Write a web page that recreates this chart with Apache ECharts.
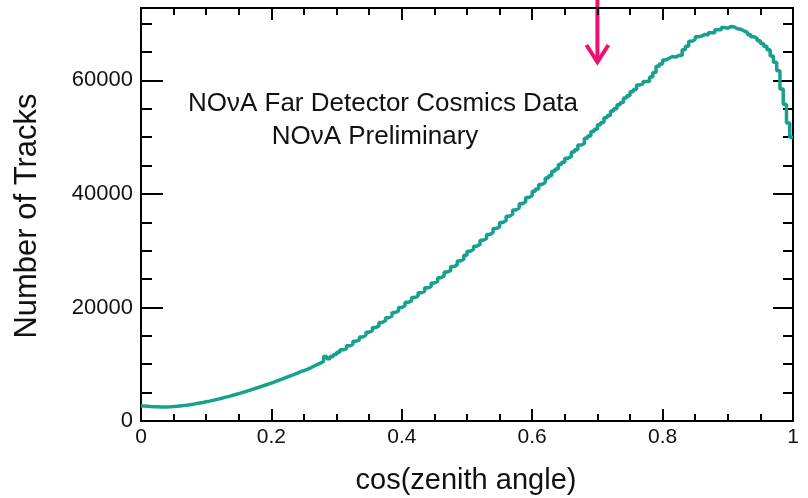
<!DOCTYPE html>
<html>
<head>
<meta charset="utf-8">
<script src="https://cdn.jsdelivr.net/npm/echarts@6/dist/echarts.min.js"></script>
<style>
html,body{margin:0;padding:0;background:#fff;}
#chart{width:808px;height:498px;}
</style>
</head>
<body>
<div id="chart"></div>
<script>
// Histogram: 200 bins over cos(zenith angle) in [0, 1]
var binLow = 0;
var binWidth = 0.005;
var counts = [
  2640, 2600, 2560, 2530, 2500, 2470, 2460, 2480, 2500, 2540,
  2590, 2660, 2720, 2790, 2870, 2960, 3060, 3160, 3270, 3390,
  3500, 3640, 3770, 3900, 4060, 4200, 4340, 4500, 4660, 4830,
  5000, 5170, 5360, 5540, 5720, 5900, 6100, 6300, 6480, 6690,
  6900, 7120, 7340, 7570, 7790, 8010, 8230, 8450, 8680, 8890,
  9100, 9360, 9640, 9920, 10200, 10480, 11350, 10980, 11350, 11720,
  12100, 12550, 12700, 13250, 13500, 14050, 14300, 14800, 15100, 15650,
  15900, 16450, 16750, 17350, 17650, 18200, 18500, 19100, 19400, 20000,
  20300, 20900, 21150, 21750, 22000, 22600, 22850, 23450, 23700, 24300,
  24600, 25250, 25550, 26250, 26500, 27200, 27500, 28200, 28500, 29200,
  29900, 30250, 30800, 31100, 31850, 32150, 32850, 33200, 33900, 34200,
  34950, 35300, 36050, 36400, 37150, 37500, 38250, 38600, 39350, 39700,
  40450, 40850, 41650, 42000, 42800, 43200, 44000, 44400, 45200, 45600,
  46300, 46600, 47400, 47800, 48600, 48900, 49800, 50200, 51000, 51400,
  52200, 52600, 53400, 53800, 54600, 55000, 55700, 56100, 56900, 57300,
  58000, 58400, 59200, 59400, 59800, 59800, 60600, 61400, 62500, 62900,
  63600, 63900, 64200, 64100, 64400, 64400, 65400, 66000, 66900, 67200,
  67700, 67800, 68100, 68000, 68400, 68400, 68900, 68900, 69300, 69200,
  69500, 69400, 69100, 69000, 68700, 68500, 68100, 67700, 67400, 67000,
  66500, 66000, 65400, 64300, 63200, 61700, 58500, 55800, 52500, 50000
];
var xTicks = [0, 0.2, 0.4, 0.6, 0.8, 1];
var xTickLabels = ['0', '0.2', '0.4', '0.6', '0.8', '1'];
var yTicks = [0, 20000, 40000, 60000];
var yTickLabels = ['0', '20000', '40000', '60000'];
var xMin = 0, xMax = 1, yMin = 0, yMax = 72750;
var arrowAt = 0.7;
var titleLines = ['NO\u03bdA Far Detector Cosmics Data', 'NO\u03bdA Preliminary'];
var xTitle = 'cos(zenith angle)';
var yTitle = 'Number of Tracks';

var stepData = [];
for (var i = 0; i < counts.length; i++) {
  stepData.push([binLow + i * binWidth, counts[i]]);
}
stepData.push([binLow + counts.length * binWidth, counts[counts.length - 1]]);

function lab(ticks, labels) {
  return function (v) {
    for (var k = 0; k < ticks.length; k++) {
      if (Math.abs(ticks[k] - v) < 1e-9) return labels[k];
    }
    return '';
  };
}

var FONT = '"Liberation Sans", Arial, Helvetica, sans-serif';
var lineBlack = { color: '#000', width: 2 };

var chart = echarts.init(document.getElementById('chart'), null, { renderer: 'canvas' });

var xAxisBase = {
  type: 'value', min: xMin, max: xMax, interval: 0.2,
  splitLine: { show: false },
  axisLine: { show: true, onZero: false, lineStyle: lineBlack },
  axisTick: { show: true, inside: true, length: 12, lineStyle: lineBlack },
  minorTick: { show: true, splitNumber: 4, length: 7, lineStyle: lineBlack },
  minorSplitLine: { show: false }
};

function yAx(pos, interval, len, showLabel, showLine) {
  return {
    type: 'value', position: pos, min: yMin, max: yMax, interval: interval,
    splitLine: { show: false },
    axisLine: { show: showLine, onZero: false, lineStyle: lineBlack },
    axisTick: { show: true, inside: true, length: len, lineStyle: lineBlack },
    axisLabel: showLabel ? {
      show: true, margin: 8, fontSize: 22, color: '#111', fontFamily: FONT,
      showMaxLabel: false, formatter: lab(yTicks, yTickLabels)
    } : { show: false }
  };
}

chart.setOption({
  animation: false,
  backgroundColor: '#fff',
  grid: { left: 141, right: 15, top: 8, bottom: 77, containLabel: false },
  xAxis: [
    Object.assign({}, xAxisBase, {
      position: 'bottom',
      axisLabel: { show: true, margin: 6, fontSize: 21, color: '#111', fontFamily: FONT, formatter: lab(xTicks, xTickLabels) }
    }),
    Object.assign({}, xAxisBase, { position: 'top', axisLabel: { show: false } })
  ],
  yAxis: [
    yAx('left', 20000, 22, true, true),
    yAx('left', 5000, 11, false, false),
    yAx('right', 20000, 20, false, true),
    yAx('right', 5000, 10, false, false)
  ],
  series: [{
    type: 'line',
    xAxisIndex: 0, yAxisIndex: 0,
    step: 'end',
    showSymbol: false,
    symbol: 'none',
    data: stepData,
    lineStyle: { color: '#17a08e', width: 3.5 },
    clip: true
  }]
});

var ax = chart.convertToPixel({ xAxisIndex: 0 }, arrowAt);
chart.setOption({
  graphic: [
    {
      type: 'text', x: 383, y: 104,
      style: { text: titleLines[0], font: '26px ' + FONT, fill: '#111', align: 'center', verticalAlign: 'middle' }
    },
    {
      type: 'text', x: 375, y: 137,
      style: { text: titleLines[1], font: '26px ' + FONT, fill: '#111', align: 'center', verticalAlign: 'middle' }
    },
    {
      type: 'text', x: 466, y: 481,
      style: { text: xTitle, font: '29px ' + FONT, fill: '#111', align: 'center', verticalAlign: 'middle' }
    },
    {
      type: 'text', x: 27, y: 216, rotation: Math.PI / 2,
      style: { text: yTitle, font: '31px ' + FONT, fill: '#111', align: 'center', verticalAlign: 'middle' }
    },
    {
      type: 'line', shape: { x1: ax, y1: 0, x2: ax, y2: 61 },
      style: { stroke: '#f0116e', lineWidth: 4 }
    },
    {
      type: 'polyline', shape: { points: [[ax - 11, 45], [ax, 62], [ax + 11, 45]] },
      style: { stroke: '#f0116e', lineWidth: 4, fill: null, lineJoin: 'miter' }
    }
  ]
});
</script>
</body>
</html>
